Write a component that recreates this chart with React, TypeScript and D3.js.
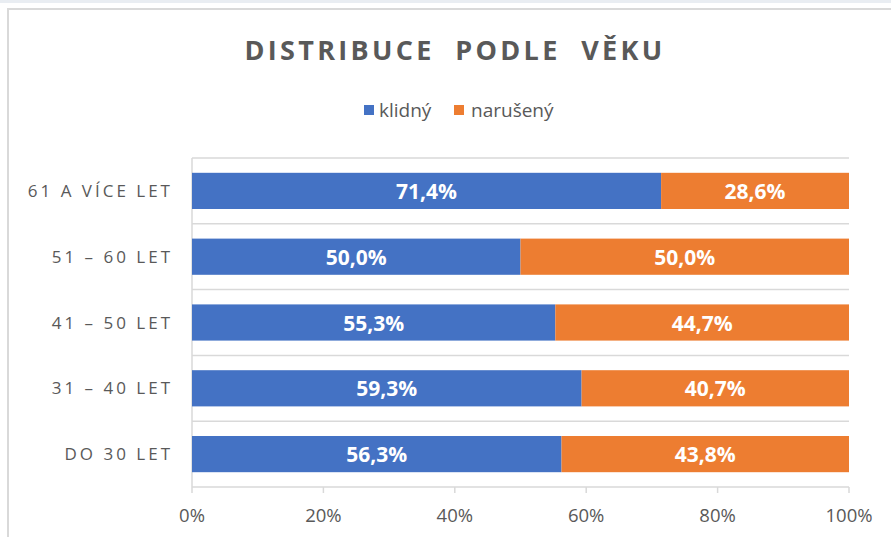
import React from "react";
import * as d3 from "d3";

const categories = ["61 A VÍCE LET", "51 – 60 LET", "41 – 50 LET", "31 – 40 LET", "DO 30 LET"];
const klidny = [71.4, 50.0, 55.3, 59.3, 56.3];
const naruseny = [28.6, 50.0, 44.7, 40.7, 43.8];
const seriesNames = ["klidný", "narušený"];
const seriesColors = ["#4472C4", "#ED7D31"];
const xTicks = [0, 0.2, 0.4, 0.6, 0.8, 1];

const W = 891;
const H = 537;
const FONT = "'Open Sans', 'Noto Sans', sans-serif";
const GRAY = "#595959";

export default function App() {
  const x = d3.scaleLinear().domain([0, 1]).range([192, 849]);
  const y = d3.scaleBand<string>().domain(categories).range([158, 487]).paddingInner(0.45).paddingOuter(0.225);
  const step = y.step();
  const fmt = (v: number) => v.toFixed(1).replace(".", ",") + "%";
  const pct = d3.format(".0%");

  const rows = categories.map((c, i) => {
    const total = klidny[i] + naruseny[i];
    return { c, a: klidny[i] / total, b: naruseny[i] / total, va: klidny[i], vb: naruseny[i] };
  });

  return (
    <div style={{ position: "fixed", left: 0, top: 0, width: W, height: H, background: "#fff" }}>
      <svg width={W} height={H} style={{ display: "block" }}>
        <rect x={0} y={0} width={W} height={3} fill="#e9edf2" />
        <rect x={8} y={9} width={W + 10} height={H + 10} fill="#fff" stroke="#d9d9d9" strokeWidth={2} />
        <text x={455} y={60} textAnchor="middle" fontFamily={FONT} fontWeight={700} fontSize={27} letterSpacing={3.3} fill={GRAY} style={{ whiteSpace: "pre" }}>
          {"DISTRIBUCE  PODLE  VĚKU"}
        </text>
        {/* legend */}
        <g fontFamily={FONT} fontSize={19} fill={GRAY}>
          <rect x={364} y={105} width={10} height={10} fill={seriesColors[0]} />
          <text x={379} y={117}>{seriesNames[0]}</text>
          <rect x={454} y={105} width={10} height={10} fill={seriesColors[1]} />
          <text x={471} y={117}>{seriesNames[1]}</text>
        </g>
        {/* gridlines */}
        {d3.range(categories.length + 1).map((i) => (
          <line key={"g" + i} x1={x(0)} x2={x(1)} y1={158 + i * step} y2={158 + i * step} stroke="#d9d9d9" strokeWidth={1.5} />
        ))}
        <line x1={x(0)} x2={x(0)} y1={158} y2={487} stroke="#d9d9d9" strokeWidth={1.5} />
        {xTicks.map((t) => (
          <g key={"t" + t}>
            <line x1={x(t)} x2={x(t)} y1={487} y2={493} stroke="#d9d9d9" strokeWidth={1.5} />
            <text x={x(t)} y={522} textAnchor="middle" fontFamily={FONT} fontSize={18.5} fill={GRAY}>{pct(t)}</text>
          </g>
        ))}
        {rows.map((r) => {
          const yy = y(r.c)!;
          const h = y.bandwidth();
          return (
            <g key={r.c}>
              <rect x={x(0)} y={yy} width={x(r.a) - x(0)} height={h} fill={seriesColors[0]} />
              <rect x={x(r.a)} y={yy} width={x(1) - x(r.a)} height={h} fill={seriesColors[1]} />
              <text x={(x(0) + x(r.a)) / 2} y={yy + h / 2 + 8} textAnchor="middle" fontFamily={FONT} fontWeight={700} fontSize={21} fill="#fff">{fmt(r.va)}</text>
              <text x={(x(r.a) + x(1)) / 2} y={yy + h / 2 + 8} textAnchor="middle" fontFamily={FONT} fontWeight={700} fontSize={21} fill="#fff">{fmt(r.vb)}</text>
              <text x={173} y={yy + h / 2 + 6} textAnchor="end" fontFamily={FONT} fontSize={17} letterSpacing={3} fill={GRAY}>{r.c}</text>
            </g>
          );
        })}
      </svg>
    </div>
  );
}
